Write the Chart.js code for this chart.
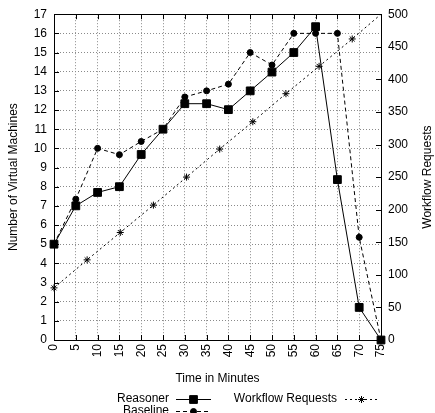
<!DOCTYPE html>
<html>
<head>
<meta charset="utf-8">
<script src="https://cdn.jsdelivr.net/npm/chart.js@4.4.1/dist/chart.umd.min.js"></script>
<style>
  html, body { margin: 0; padding: 0; background: #fff; }
  #wrap { width: 435px; height: 413px; position: relative; }
</style>
</head>
<body>
<div id="wrap"><canvas id="vmChart" width="435" height="413"></canvas></div>
<script>
// values
var minutes = [0, 5, 10, 15, 20, 25, 30, 35, 40, 45, 50, 55, 60, 65, 70, 75];
var reasoner = [5, 7, 7.7, 8, 9.68, 11, 12.33, 12.33, 12.02, 13, 13.98, 15, 16.35, 8.37, 1.7, 0];
var baseline = [5, 7.35, 10, 9.67, 10.36, 11, 12.68, 13, 13.35, 15, 14.35, 16, 16, 16, 5.36, 0];
var requestMinutes = [0, 7.6, 15.2, 22.8, 30.4, 38, 45.6, 53.2, 60.8, 68.4, 75];
var requests = [80, 123, 165, 207, 250, 293, 335, 378, 420, 462, 500];

var fontFamily = '"Liberation Sans", Arial, Helvetica, sans-serif';
Chart.defaults.font.family = fontFamily;
Chart.defaults.font.size = 12;
Chart.defaults.color = '#000';

function toPoints(xs, ys) {
    return xs.map(function (x, i) { return { x: x, y: ys[i] }; });
}

var starRadius = requests.map(function (v, i) { return i == requests.length - 1 ? 0 : 3.5; });

// box, inner tick marks, right axis title and gnuplot style key
var gnuplotDecor = {
    id: 'gnuplotDecor',
    beforeDatasetsDraw: function (chart) {
        var ctx = chart.ctx, a = chart.chartArea;
        var xs = chart.scales.x, yl = chart.scales.y, yr = chart.scales.y1;
        ctx.save();
        ctx.strokeStyle = '#000';
        ctx.lineWidth = 1;
        ctx.setLineDash([]);
        ctx.beginPath();
        xs.ticks.forEach(function (t) {
            var px = Math.round(xs.getPixelForValue(t.value)) + 0.5;
            ctx.moveTo(px, a.bottom); ctx.lineTo(px, a.bottom - 5);
            ctx.moveTo(px, a.top); ctx.lineTo(px, a.top + 5);
        });
        yl.ticks.forEach(function (t) {
            var py = Math.round(yl.getPixelForValue(t.value)) + 0.5;
            ctx.moveTo(a.left, py); ctx.lineTo(a.left + 5, py);
        });
        yr.ticks.forEach(function (t) {
            var py = Math.round(yr.getPixelForValue(t.value)) + 0.5;
            ctx.moveTo(a.right, py); ctx.lineTo(a.right - 5, py);
        });
        ctx.stroke();
        ctx.strokeRect(Math.round(a.left) + 0.5, Math.round(a.top) + 0.5,
            Math.round(a.right - a.left), Math.round(a.bottom - a.top));
        ctx.restore();
    },
    afterDraw: function (chart) {
        var ctx = chart.ctx, a = chart.chartArea;
        ctx.save();
        ctx.fillStyle = '#000';
        ctx.font = '12px ' + fontFamily;
        ctx.textBaseline = 'middle';

        ctx.save();
        ctx.translate(428, (a.top + a.bottom) / 2);
        ctx.rotate(-Math.PI / 2);
        ctx.textAlign = 'center';
        ctx.fillText('Workflow Requests', 0, 0);
        ctx.restore();

        var entries = [
            { ds: chart.data.datasets[0], textX: 169, x1: 176, x2: 211, y: 399 },
            { ds: chart.data.datasets[2], textX: 337, x1: 345, x2: 378, y: 399 },
            { ds: chart.data.datasets[1], textX: 169, x1: 176, x2: 211, y: 411 }
        ];
        entries.forEach(function (e) {
            ctx.textAlign = 'right';
            ctx.fillText(e.ds.label, e.textX, e.y);
            ctx.strokeStyle = '#000';
            ctx.lineWidth = 1;
            ctx.setLineDash(e.ds.borderDash || []);
            ctx.beginPath();
            ctx.moveTo(e.x1, e.y + 0.5);
            ctx.lineTo(e.x2, e.y + 0.5);
            ctx.stroke();
            ctx.setLineDash([]);
            Chart.helpers.drawPoint(ctx, {
                pointStyle: e.ds.pointStyle,
                radius: e.ds.legendRadius,
                borderWidth: 1
            }, (e.x1 + e.x2) / 2, e.y + 0.5);
        });
        ctx.restore();
    }
};

var vmChart = new Chart(document.getElementById('vmChart'), {
    type: 'line',
    data: {
        datasets: [{
            label: 'Reasoner',
            data: toPoints(minutes, reasoner),
            yAxisID: 'y',
            borderColor: '#000',
            backgroundColor: '#000',
            borderWidth: 1,
            pointStyle: 'rect',
            pointRadius: 5.5,
            legendRadius: 5.5,
            pointBorderWidth: 1,
            clip: false
        }, {
            label: 'Baseline',
            data: toPoints(minutes, baseline),
            yAxisID: 'y',
            borderColor: '#000',
            backgroundColor: '#000',
            borderWidth: 1,
            borderDash: [4, 3],
            pointStyle: 'circle',
            pointRadius: 3,
            legendRadius: 3,
            pointBorderWidth: 1,
            clip: false
        }, {
            label: 'Workflow Requests',
            data: toPoints(requestMinutes, requests),
            yAxisID: 'y1',
            borderColor: '#000',
            backgroundColor: '#000',
            borderWidth: 1,
            borderDash: [2, 3],
            pointStyle: 'star',
            pointRadius: starRadius,
            legendRadius: 3.5,
            pointBorderWidth: 1,
            clip: false
        }]
    },
    options: {
        responsive: false,
        animation: false,
        devicePixelRatio: 1,
        layout: { padding: { top: 10, left: 0, right: 0, bottom: 0 } },
        plugins: {
            legend: { display: false },
            tooltip: { enabled: false }
        },
        elements: { line: { tension: 0 } },
        scales: {
            x: {
                type: 'linear',
                min: 0,
                max: 75,
                afterFit: function (s) { s.height = 73; },
                ticks: {
                    stepSize: 5,
                    minRotation: 90,
                    maxRotation: 90,
                    padding: 4,
                    autoSkip: false
                },
                grid: { color: '#8a8a8a', lineWidth: 1, drawTicks: false },
                border: { display: false, dash: [1, 2] },
                title: {
                    display: true,
                    text: 'Time in Minutes',
                    padding: { top: 0, bottom: 27 }
                }
            },
            y: {
                position: 'left',
                min: 0,
                max: 17,
                afterFit: function (s) { s.width = 54; },
                ticks: { stepSize: 1, padding: 7 },
                grid: { color: '#8a8a8a', lineWidth: 1, drawTicks: false },
                border: { display: false, dash: [1, 2] },
                title: {
                    display: true,
                    text: 'Number of Virtual Machines',
                    padding: { top: 6, bottom: 0 }
                }
            },
            y1: {
                position: 'right',
                min: 0,
                max: 500,
                afterFit: function (s) { s.width = 54; },
                ticks: { stepSize: 50, padding: 7 },
                grid: { drawOnChartArea: false, drawTicks: false },
                border: { display: false }
            }
        }
    },
    plugins: [gnuplotDecor]
});
</script>
</body>
</html>
